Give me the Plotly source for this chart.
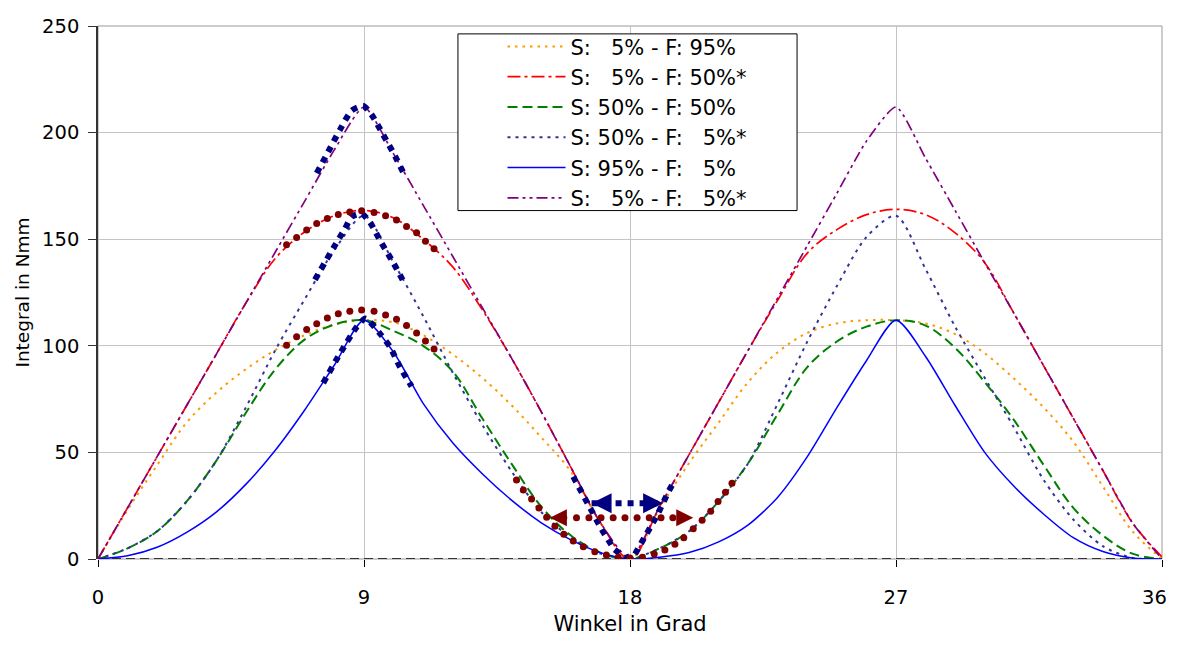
import plotly.graph_objects as go

# ---------------- data ----------------
angle = list(range(0, 37))  # Winkel in Grad

s5_f95 = [0, 23, 44, 64, 78, 89, 98, 105, 110, 112,
          111, 105, 96, 85, 72, 57, 41, 17, 0,
          23.5, 45, 64, 83, 97, 106, 110.5, 112, 112,
          110.5, 105.5, 96.5, 84.5, 71, 55, 34, 13, 0]
s5_f50 = [0, 24, 48, 72, 96, 120, 141, 153.5, 161, 163.5,
          160, 150, 137, 117, 94, 69, 43, 17, 0,
          24.5, 49, 73.5, 98, 121.5, 143.5, 154.5, 161.5, 164,
          161.5, 153, 139, 115, 90.5, 66, 41.5, 17, 1]
s50_f50 = [0, 5, 13, 27, 46, 68.5, 89, 103, 110, 112,
           107, 100, 88, 66, 44.5, 24.5, 11, 3, 0,
           5, 13, 27, 45, 68, 90, 102, 109, 112,
           109.5, 99, 83, 65, 44, 24, 11, 2.5, 0]
s50_f5 = [0, 5, 13, 27, 46, 71, 98, 122, 145, 161,
          139, 114, 87.5, 63, 41, 22, 10, 2.5, 0,
          5, 13, 27, 45, 73, 102, 128, 151, 161,
          136, 109, 85, 61.5, 37, 18.5, 6, 0.5, 0]
s95_f5 = [0, 1.5, 5.5, 12.5, 22, 35, 51, 70, 91, 112,
          97, 73, 54.5, 40, 27.5, 17, 9, 3, 0,
          0.8, 3, 8, 16, 29, 48, 71, 93, 112,
          95, 72, 50, 34, 21, 10, 3.5, 0.5, 0]
s5_f5 = [0, 24, 48, 72, 96, 120, 144, 168, 192, 212,
         190, 166, 142, 118, 94, 69, 43, 17, 0,
         24.5, 49, 73.5, 98, 122.5, 147, 171.5, 196, 212,
         188, 163.5, 139, 115, 90.5, 66, 41.5, 17, 0]

# hand-drawn highlight marks
navy_top_x = [7.40, 7.79, 8.19, 8.58, 8.98, 9.26, 9.65, 10.05, 10.39]
navy_top_y = [181, 191, 201.4, 210.3, 212.5, 208.3, 199, 189, 179.5]
navy_mid_x = [7.34, 7.96, 8.36, 8.58, 8.92, 9.20, 9.60, 9.99, 10.39]
navy_mid_y = [131, 145.8, 155, 160.5, 162, 158, 148, 139, 128.8]
navy_low_x = [7.62, 8.19, 8.75, 9.05, 9.54, 9.88, 10.22, 10.61]
navy_low_y = [82.6, 96.4, 108.8, 112.8, 105.7, 99.5, 90, 81]
navy_v_x = [16.08, 16.64, 17.04, 17.46, 17.85, 18.17, 18.56, 18.93, 19.30, 19.49]
navy_v_y = [38.6, 23.9, 13.9, 4.6, 0.5, 2.3, 11.6, 20.8, 31.6, 36.3]

cap_x = [6.38, 6.72, 7.06, 7.40, 7.76, 8.13, 8.52, 8.92, 9.34, 9.73, 10.10, 10.44, 10.78, 11.08, 11.37]
red_cap_y = [147.4, 150.8, 154.3, 157.4, 159.7, 161.6, 162.8, 163.3, 162.5, 161.0, 159.0, 156.0, 153.0, 149.0, 145.5]
green_cap_y = [100.3, 104.2, 107.6, 110.3, 113.0, 115.0, 116.2, 116.8, 116.2, 114.5, 112.5, 109.5, 106.0, 102.3, 98.5]
valley_x = [14.16, 14.39, 14.67, 14.92, 15.18, 15.46, 15.76, 16.08, 16.42, 16.81, 17.20, 17.60, 18.00,
            18.42, 18.82, 19.18, 19.52, 19.82, 20.14, 20.44, 20.73, 20.98, 21.23, 21.45]
valley_y = [37.0, 32.4, 28.2, 23.9, 19.6, 15.4, 11.6, 8.5, 5.7, 3.4, 1.9, 0.8, 0.5,
            0.8, 2.3, 4.2, 6.9, 10.0, 14.2, 18.2, 22.4, 27.0, 31.3, 35.5]

navy_arrow_x = [16.70, 19.12]
navy_arrow_y = [26.2, 26.2]
red_arrow_x = [15.29, 20.14]
red_arrow_y = [19.3, 19.3]
red_arrow_dots_x = [15.76, 16.19, 16.61, 17.02, 17.43, 17.83, 18.24, 18.65, 19.05, 19.45]

x_range = [0, 36]
y_range = [0, 250]
x_ticks = [0, 9, 18, 27, 36]
x_tick_labels = ["0", "9", "18", "27", "36"]

legend_names = [
    "S: \u20075% - F: 95%",
    "S: \u20075% - F: 50%*",
    "S: 50% - F: 50%",
    "S: 50% - F: \u20075%*",
    "S: 95% - F: \u20075%",
    "S: \u20075% - F: \u20075%*",
]

# ---------------- figure ----------------
FONT = "DejaVu Sans"
fig = go.Figure()

# baseline (dashed x-axis line)
fig.add_trace(go.Scatter(x=x_range, y=[y_range[0]] * 2, mode="lines",
                         line=dict(color="black", width=1.5, dash="9px,5px"),
                         showlegend=False, hoverinfo="skip"))

series = [
    (s5_f95, "#FF9900", "2.5px,5px", 2, 1.0),
    (s5_f50, "#FF0000", "13px,4px,3px,4px", 1.7, 1.0),
    (s50_f50, "#008000", "10px,5px", 2, 1.0),
    (s50_f5, "#333399", "3px,5px", 2, 0.8),
    (s95_f5, "#0000FF", "solid", 1.5, 0.75),
    (s5_f5, "#800080", "11px,4px,3px,4px,3px,4px", 1.7, 0.6),
]
for (vals, col, dash, w, sm), name in zip(series, legend_names):
    fig.add_trace(go.Scatter(x=angle, y=vals, mode="lines", name=name,
                             line=dict(color=col, dash=dash, width=w, shape="spline", smoothing=sm)))

NAVY = "#000080"
DRED = "#800000"
for xs, ys in [(navy_top_x, navy_top_y), (navy_mid_x, navy_mid_y), (navy_low_x, navy_low_y)]:
    fig.add_trace(go.Scatter(x=xs, y=ys, mode="lines", showlegend=False, hoverinfo="skip",
                             line=dict(color=NAVY, width=6, dash="6px,6px", shape="spline", smoothing=0.6)))
fig.add_trace(go.Scatter(x=navy_v_x, y=navy_v_y, mode="lines", showlegend=False, hoverinfo="skip",
                         line=dict(color=NAVY, width=6, dash="6px,6px")))

for xs, ys in [(cap_x, red_cap_y), (cap_x, green_cap_y), (valley_x, valley_y)]:
    fig.add_trace(go.Scatter(x=xs, y=ys, mode="markers", showlegend=False, hoverinfo="skip",
                             marker=dict(color=DRED, size=7, symbol="circle")))

# arrows
fig.add_trace(go.Scatter(x=navy_arrow_x, y=navy_arrow_y, mode="lines+markers", showlegend=False,
                         hoverinfo="skip", line=dict(color=NAVY, width=6, dash="6px,6px"),
                         marker=dict(color=NAVY, size=20, symbol=["arrow-left", "arrow-right"])))
fig.add_trace(go.Scatter(x=red_arrow_dots_x, y=[red_arrow_y[0]] * len(red_arrow_dots_x), mode="markers",
                         showlegend=False, hoverinfo="skip",
                         marker=dict(color=DRED, size=7, symbol="circle")))
fig.add_trace(go.Scatter(x=red_arrow_x, y=red_arrow_y, mode="markers", showlegend=False,
                         hoverinfo="skip",
                         marker=dict(color=DRED, size=17, symbol=["arrow-left", "arrow-right"])))

# legend box and plot frame
lx0, lx1, ly0, ly1 = 0.3383, 0.657, 0.6537, 0.9852
fig.add_shape(type="rect", xref="paper", yref="paper", x0=0, x1=1, y0=0, y1=1,
              line=dict(color="#999999", width=1), layer="below")
fig.add_shape(type="rect", xref="paper", yref="paper", x0=lx0, x1=lx1, y0=ly0, y1=ly1,
              line=dict(color="black", width=1), fillcolor="white", layer="above")

# the last x tick label sits at the very right edge of the page; draw it as an
# annotation kept inside the figure so it is not hidden
fig.add_annotation(text=x_tick_labels[-1], xref="paper", yref="paper", x=1, y=0,
                   xanchor="right", yanchor="top", xshift=6, yshift=-26, borderpad=0,
                   showarrow=False, font=dict(size=19.5, family=FONT, color="black"))

# figure sized to fit inside the window together with the page's 8px body margin
fig.update_layout(
    width=1161, height=630,
    margin=dict(l=90, r=7, t=17, b=73),
    paper_bgcolor="white", plot_bgcolor="white",
    font=dict(family=FONT, color="black"),
    legend=dict(x=(lx0 + lx1) / 2, y=(ly0 + ly1) / 2, xanchor="center", yanchor="middle",
                bgcolor="rgba(0,0,0,0)", borderwidth=0, itemwidth=58,
                font=dict(size=21, family=FONT)),
    xaxis=dict(range=x_range, tickvals=x_ticks, ticktext=x_tick_labels[:-1] + [""],
               ticks="outside", ticklen=7, tickcolor="black",
               showline=False, zeroline=False, showgrid=True, gridcolor="#c4c4c4", gridwidth=1,
               tickfont=dict(size=19.5, family=FONT), ticklabelstandoff=14,
               title=dict(text="Winkel in Grad", font=dict(size=21, family=FONT), standoff=7)),
    yaxis=dict(range=y_range, dtick=50, ticks="outside", ticklen=8, tickcolor="#333",
               showline=True, linecolor="#333", linewidth=1.5, zeroline=False,
               showgrid=True, gridcolor="#c4c4c4", gridwidth=1,
               tickfont=dict(size=19.5, family=FONT), ticklabelstandoff=5,
               title=dict(text="Integral in Nmm", font=dict(size=18.5, family=FONT), standoff=8)),
)

fig.write_html("out.html")
